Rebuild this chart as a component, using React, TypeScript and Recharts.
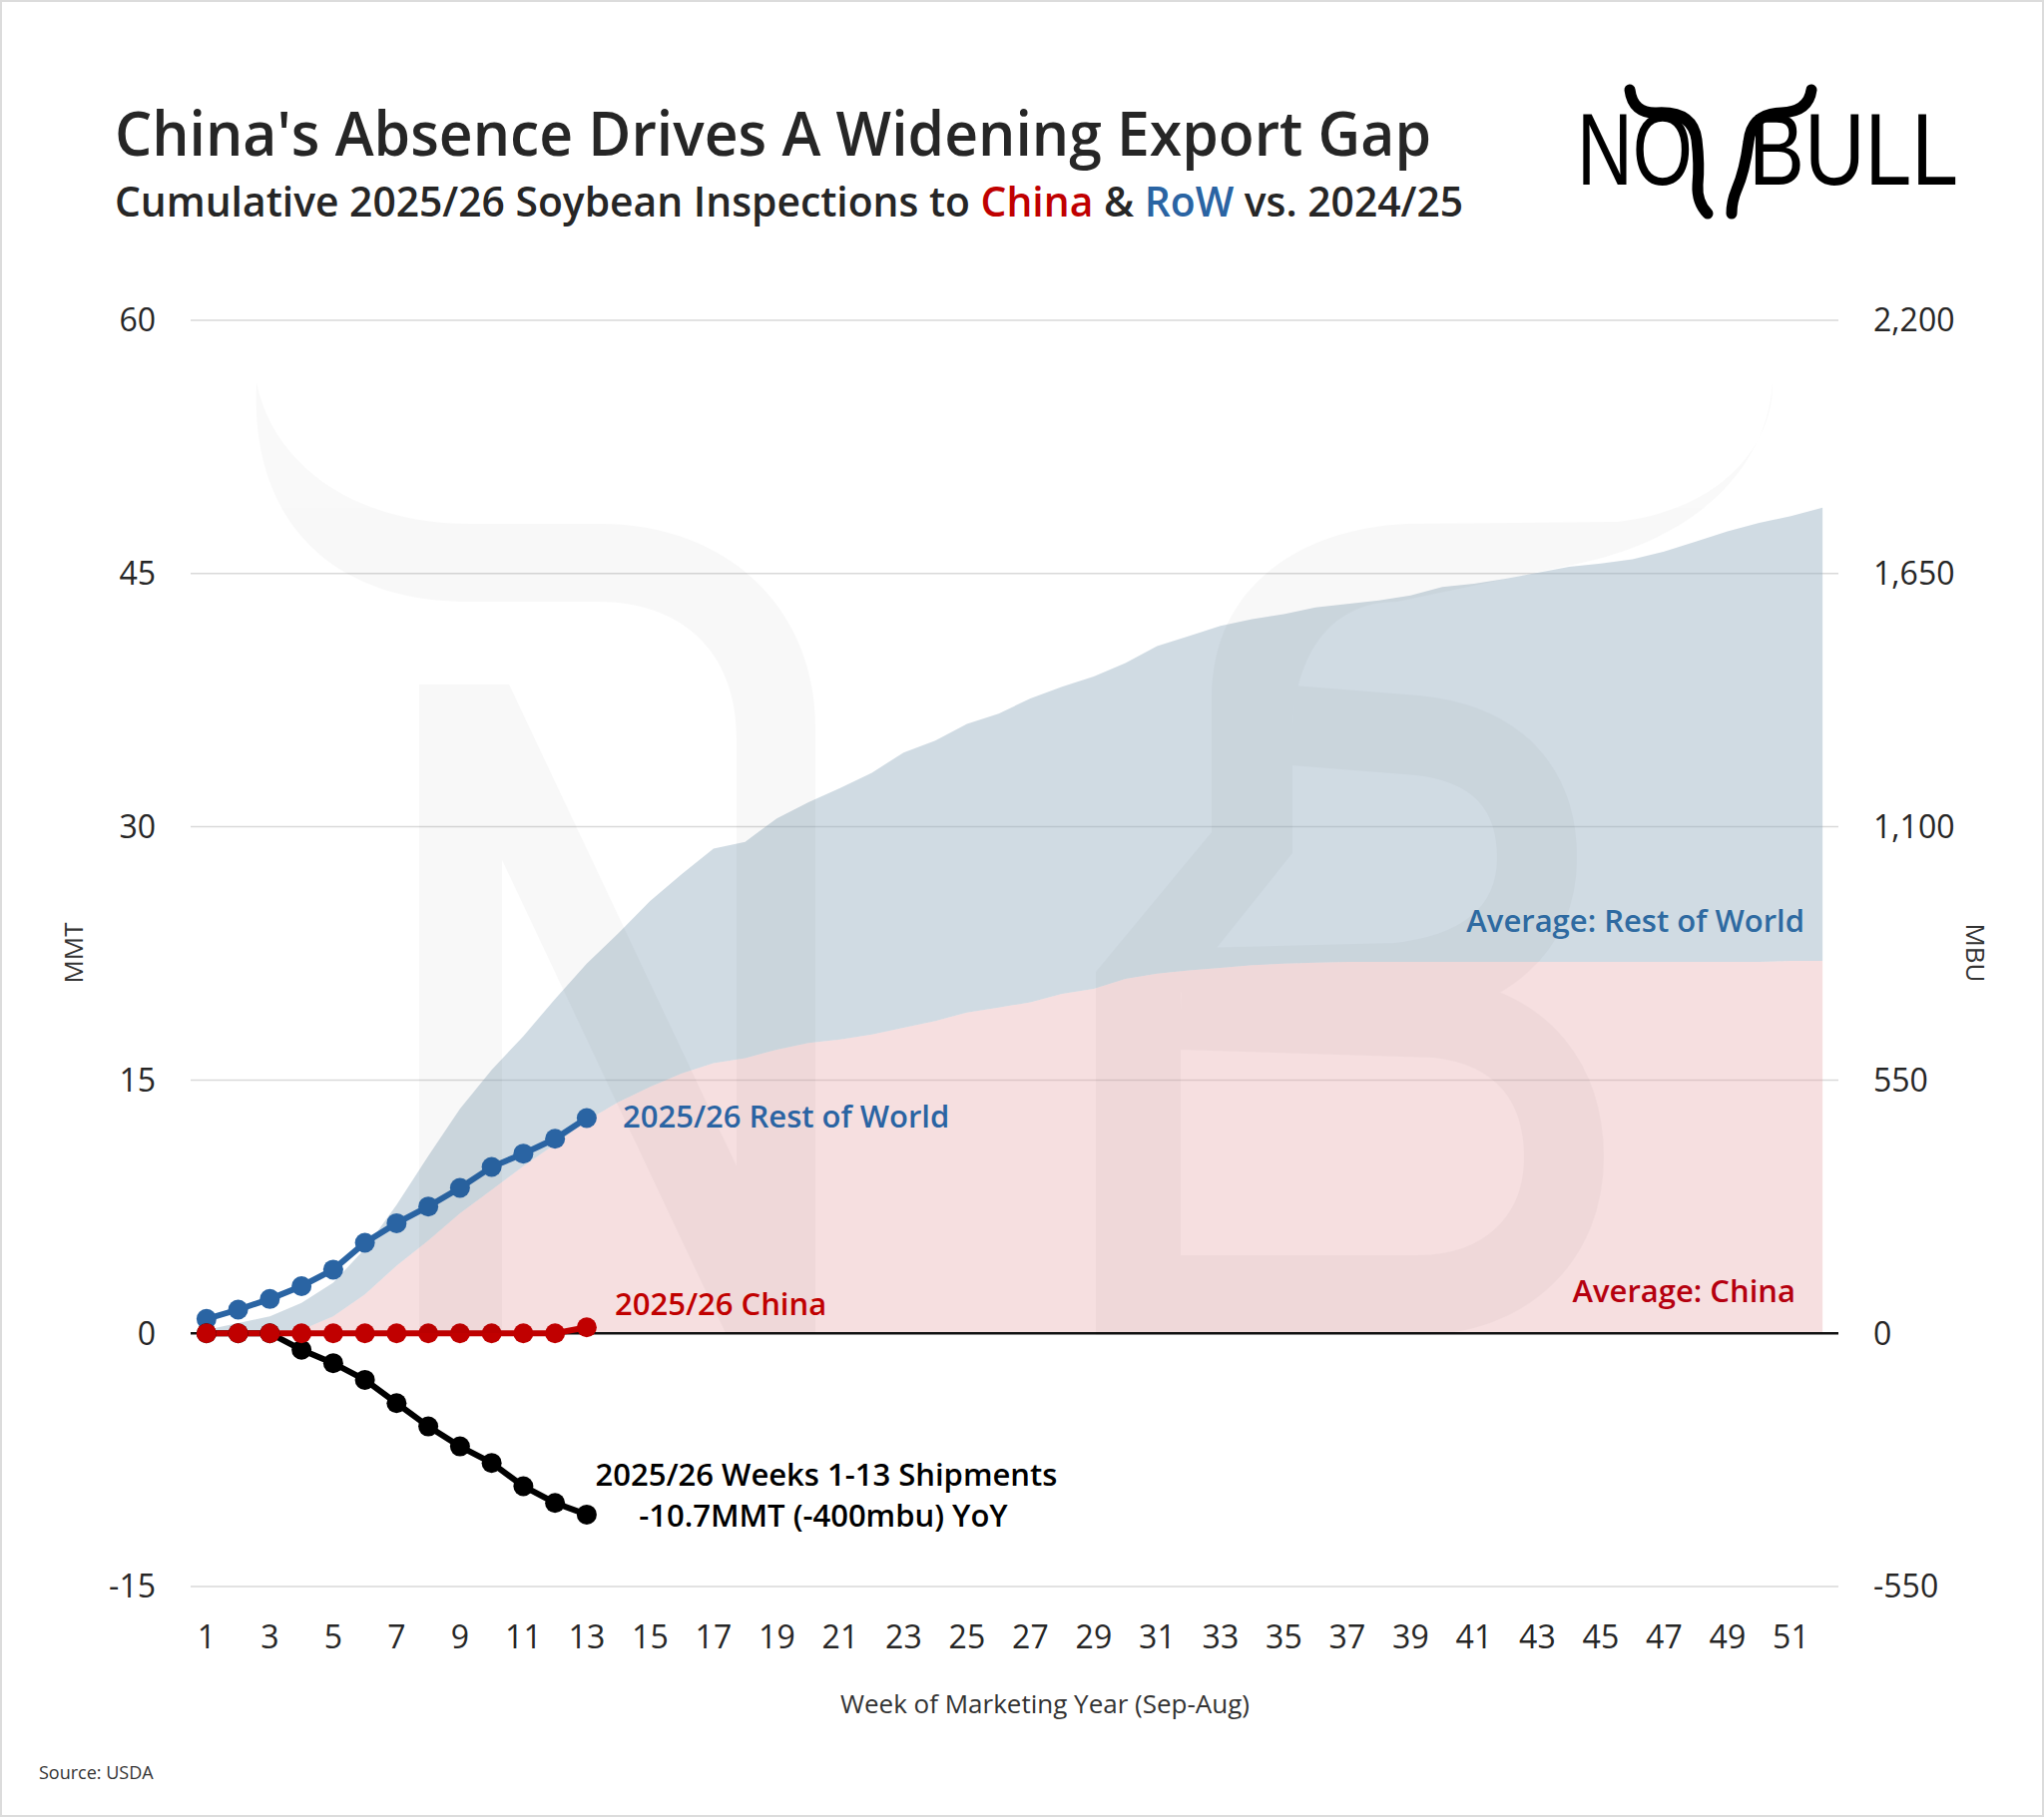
import React from 'react';
import {
    ComposedChart, Area, Line, XAxis, YAxis, CartesianGrid, ReferenceLine
} from 'recharts';

// week of marketing year (Sep-Aug)
const weeks = [
    1, 2, 3, 4, 5, 6, 7, 8, 9, 10, 11, 12, 13, 14, 15, 16, 17, 18, 19, 20, 21, 22, 23, 24, 25, 26,
    27, 28, 29, 30, 31, 32, 33, 34, 35, 36, 37, 38, 39, 40, 41, 42, 43, 44, 45, 46, 47, 48, 49, 50, 51, 52,
];
const weekTicks = [1, 3, 5, 7, 9, 11, 13, 15, 17, 19, 21, 23, 25, 27, 29, 31, 33, 35, 37, 39, 41, 43, 45, 47, 49, 51];

// average cumulative inspections, MMT (stacked: China underneath, RoW on top)
const avgChina = [
    0, 0, 0.05, 0.2, 1.0, 2.3, 4.0, 5.5, 7.1, 8.5, 9.9, 11.2, 12.6, 13.7, 14.6, 15.4, 16.0, 16.3, 16.8, 17.2,
    17.4, 17.7, 18.1, 18.5, 19.0, 19.3, 19.6, 20.1, 20.4, 21.0, 21.3, 21.5, 21.65, 21.8, 21.9, 21.95,
    22.0, 22.0, 22.0, 22.0, 22.0, 22.0, 22.0, 22.0, 22.0, 22.0, 22.0, 22.0, 22.0, 22.0, 22.05, 22.05,
];
const avgRoW = [
    0.2, 0.6, 0.95, 1.6, 2.0, 2.7, 3.6, 5.0, 6.2, 7.1, 7.7, 8.6, 9.3, 10.0, 11.0, 11.8, 12.7, 12.8, 13.7, 14.25,
    14.9, 15.5, 16.3, 16.6, 17.1, 17.4, 18.0, 18.2, 18.5, 18.7, 19.4, 19.8, 20.25, 20.5, 20.7, 21.05,
    21.2, 21.4, 21.7, 22.2, 22.4, 22.7, 23.05, 23.4, 23.6, 23.85, 24.3, 24.9, 25.5, 26.0, 26.35, 26.85,
];

// 2025/26 weeks 1-13, MMT
const row2526 = [0.85, 1.4, 2.03, 2.79, 3.77, 5.36, 6.52, 7.51, 8.61, 9.85, 10.64, 11.52, 12.75];
const china2526 = [0, 0, 0, 0, 0, 0, 0, 0, 0, 0, 0, 0, 0.35];
const yoyDiff = [0, 0, 0, -0.98, -1.77, -2.76, -4.14, -5.52, -6.7, -7.68, -9.06, -10.05, -10.74];

const mmtTicks = [-15, 0, 15, 30, 45, 60];
const mbuTicks = [-550, 0, 550, 1100, 1650, 2200];

const FONT = '"Open Sans", "Noto Sans", sans-serif';
const DARK = '#262626';
const RED = '#c00000';
const BLUE = '#2a64a3';

const data = weeks.map((w, i) => ({
    week: w,
    avgChina: avgChina[i],
    avgRoW: avgRoW[i],
    row2526: row2526[i],
    china2526: china2526[i],
    yoy: yoyDiff[i],
}));

const tickStyle = { fontSize: 32, fill: DARK, fontFamily: FONT, fontWeight: 500 };

const App: React.FC = () => {
    return (
        <div style={{ position: 'relative', width: 2048, height: 1821, background: '#fff', boxSizing: 'border-box', border: '2px solid #dcdcdc', overflow: 'hidden' }}>
            <style>{'body{margin:0}'}</style>
            <div style={{ position: 'absolute', left: -2, top: -2 }}>
                <ComposedChart width={2048} height={1821} data={data} margin={{ top: 321, right: 0, bottom: 171, left: 0 }}>
                    <CartesianGrid yAxisId="mmt" vertical={false} stroke="#d9d9d9" strokeWidth={1.5} />
                    <XAxis
                        dataKey="week"
                        type="number"
                        domain={[0.5, 52.5]}
                        ticks={weekTicks}
                        interval={0}
                        height={60}
                        tickLine={false}
                        axisLine={false}
                        tickMargin={33}
                        tick={tickStyle}
                    />
                    <YAxis
                        yAxisId="mmt"
                        width={191}
                        type="number"
                        domain={[-15, 60]}
                        ticks={mmtTicks}
                        tickLine={false}
                        axisLine={false}
                        tickMargin={29}
                        tick={tickStyle}
                    />
                    <YAxis
                        yAxisId="mbu"
                        orientation="right"
                        width={206}
                        type="number"
                        domain={[-550, 2200]}
                        ticks={mbuTicks}
                        allowDataOverflow
                        tickLine={false}
                        axisLine={false}
                        tickMargin={29}
                        tick={tickStyle}
                        tickFormatter={(v: number) => v.toLocaleString('en-US')}
                    />
                    <Area yAxisId="mmt" type="linear" dataKey="avgChina" stackId="avg" stroke="none" fill="#e6a3a7" fillOpacity={0.35} isAnimationActive={false} />
                    <Area yAxisId="mmt" type="linear" dataKey="avgRoW" stackId="avg" stroke="none" fill="#8fa9bd" fillOpacity={0.42} isAnimationActive={false} />
                    <ReferenceLine yAxisId="mmt" y={0} stroke="#111" strokeWidth={2.5} />
                    <Line yAxisId="mmt" type="linear" dataKey="row2526" stroke={BLUE} strokeWidth={6} dot={{ r: 10, fill: BLUE, stroke: 'none' }} activeDot={false} isAnimationActive={false} />
                    <Line yAxisId="mmt" type="linear" dataKey="yoy" stroke="#000" strokeWidth={6} dot={{ r: 10, fill: '#000', stroke: 'none' }} activeDot={false} isAnimationActive={false} />
                    <Line yAxisId="mmt" type="linear" dataKey="china2526" stroke={RED} strokeWidth={6} dot={{ r: 10, fill: RED, stroke: 'none' }} activeDot={false} isAnimationActive={false} />
                </ComposedChart>
            </div>

            <svg width={2048} height={1821} style={{ position: 'absolute', left: -2, top: -2, pointerEvents: 'none' }} fontFamily={FONT}>
                {/* faint bull watermark */}
                <g opacity={0.025} fill="#000">
                    <path d="M 257 383 C 275 470, 360 525, 470 525 L 600 525 C 730 525, 817 610, 817 730 L 817 1336 L 738 1336 L 738 740 C 738 650, 680 603, 600 603 L 470 603 C 330 603, 250 520, 257 383 Z" />
                    <path d="M 420 686 L 503 686 L 503 1336 L 420 1336 Z" />
                    <path d="M 420 686 L 510 686 L 817 1336 L 727 1336 Z" />
                    <path d="M 1776 383 C 1778 440, 1730 510, 1621 523 L 1410 525 C 1300 530, 1214 590, 1214 700 L 1214 834 L 1098 974 L 1098 1338 L 1183 1338 L 1183 995 L 1295 855 L 1295 740 C 1295 660, 1330 603, 1400 603 L 1580 565 C 1700 540, 1770 470, 1776 383 Z" />
                    <path d="M 1295 727 L 1420 737 C 1500 745, 1540 790, 1540 860 C 1540 930, 1490 975, 1400 985 L 1200 990" fill="none" stroke="#000" strokeWidth={80} />
                    <path d="M 1183 1012 L 1440 1020 C 1530 1030, 1567 1090, 1567 1160 C 1567 1240, 1510 1298, 1420 1298 L 1140 1298" fill="none" stroke="#000" strokeWidth={80} />
                </g>

                {/* title block */}
                <text x={115} y={156} fontSize={62} fontWeight={600} fill={DARK} textLength={1319} lengthAdjust="spacingAndGlyphs">
                    China's Absence Drives A Widening Export Gap
                </text>
                <text x={115} y={217} fontSize={40.8} fontWeight={600} fill={DARK}>
                    Cumulative 2025/26 Soybean Inspections to <tspan fill={RED}>China</tspan> &amp; <tspan fill={BLUE}>RoW</tspan> vs. 2024/25
                </text>

                {/* NO BULL logo */}
                <g fontFamily='"Liberation Sans", Arial, sans-serif' fill="#000">
                    <text x={1580} y={185} fontSize={102} textLength={116} lengthAdjust="spacingAndGlyphs">NO</text>
                    <text x={1752} y={185} fontSize={102} textLength={210} lengthAdjust="spacingAndGlyphs">BULL</text>
                    <path d="M 1633 90 Q 1636 114 1660 113 Q 1696 111 1700 140 Q 1703 165 1701 185 Q 1700 203 1711 214" fill="none" stroke="#000" strokeWidth={11} strokeLinecap="round" />
                    <path d="M 1815 90 Q 1812 112 1785 113 Q 1755 114 1752 142 Q 1748 172 1740 190 Q 1735 202 1735 214" fill="none" stroke="#000" strokeWidth={11} strokeLinecap="round" />
                </g>

                {/* axis titles */}
                <text transform="translate(83, 955) rotate(-90)" textAnchor="middle" fontSize={26} fill="#333">MMT</text>
                <text transform="translate(1970, 955) rotate(90)" textAnchor="middle" fontSize={26} fill="#333">MBU</text>
                <text x={1047} y={1717} textAnchor="middle" fontSize={26} fill="#333">Week of Marketing Year (Sep-Aug)</text>
                <text x={39} y={1783} fontSize={18} fill="#333">Source: USDA</text>

                {/* series annotations */}
                <text x={1808} y={934} textAnchor="end" fontSize={31} fontWeight={600} fill="#2e6aa1">Average: Rest of World</text>
                <text x={1799} y={1305} textAnchor="end" fontSize={31} fontWeight={600} fill="#b5000f">Average: China</text>
                <text x={624} y={1130} fontSize={31} fontWeight={600} fill={BLUE}>2025/26 Rest of World</text>
                <text x={616} y={1318} fontSize={31} fontWeight={600} fill={RED}>2025/26 China</text>
                <text x={828} y={1489} textAnchor="middle" fontSize={31} fontWeight={600} fill="#000">2025/26 Weeks 1-13 Shipments</text>
                <text x={825} y={1530} textAnchor="middle" fontSize={31} fontWeight={600} fill="#000">-10.7MMT (-400mbu) YoY</text>
            </svg>
        </div>
    );
};

export default App;
